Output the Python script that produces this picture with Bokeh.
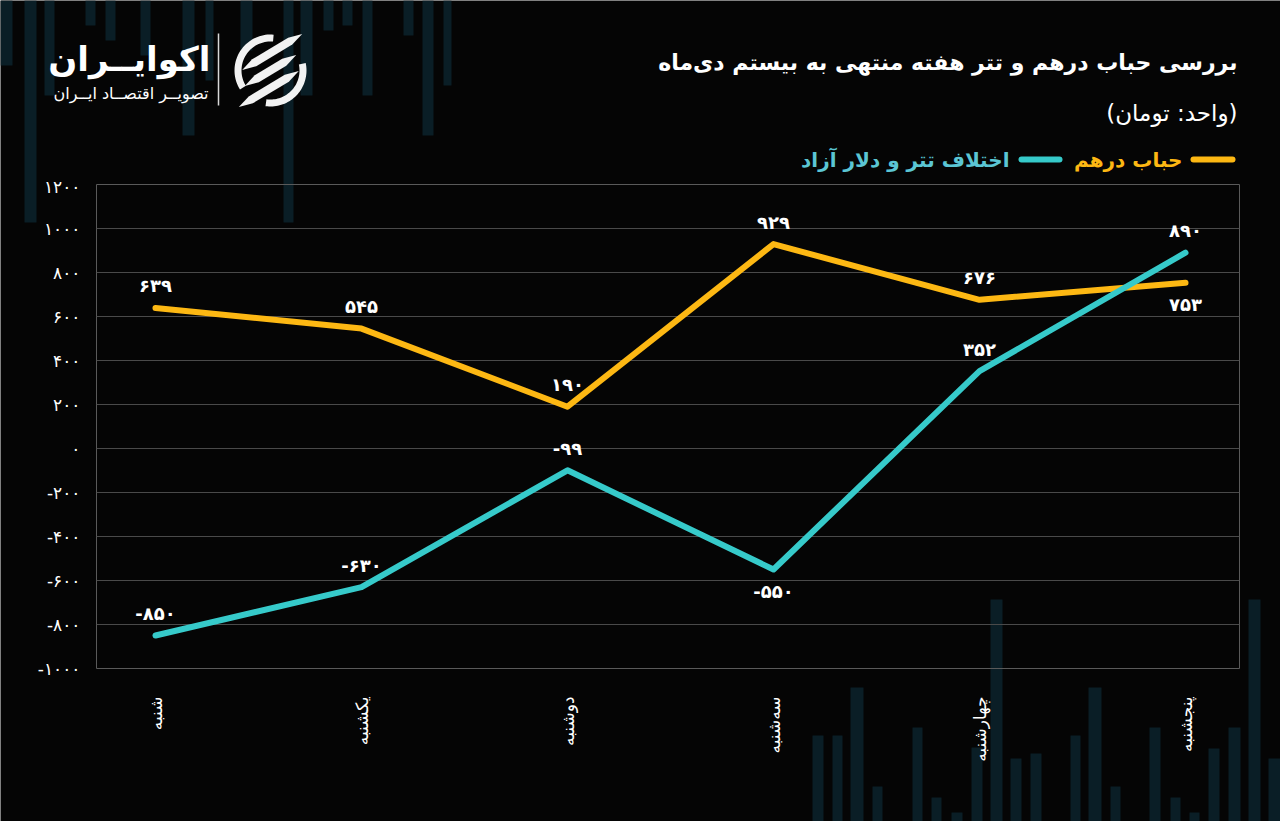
import numpy as np
from bokeh.plotting import figure
from bokeh.models import Range1d, FixedTicker, ColumnDataSource
from bokeh.core.properties import value
from bokeh.embed import file_html
from bokeh.resources import INLINE

# ---------------- data ----------------
days = ["شنبه", "یکشنبه", "دوشنبه", "سه‌شنبه", "چهارشنبه", "پنجشنبه"]
dirham_bubble = [639, 545, 190, 929, 676, 753]          # حباب درهم
tether_gap = [-850, -630, -99, -550, 352, 890]           # اختلاف تتر و دلار آزاد
y_ticks = [-1000, -800, -600, -400, -200, 0, 200, 400, 600, 800, 1000, 1200]

title_text = "بررسی حباب درهم و تتر هفته منتهی به بیستم دی‌ماه"
subtitle_text = "(واحد: تومان)"
series_names = ["حباب درهم", "اختلاف تتر و دلار آزاد"]
brand_name = "اکوایــران"
brand_tag = "تصویــر اقتصــاد ایــران"

# label placement (1 = above point, -1 = below point)
dirham_label_side = [1, 1, 1, 1, 1, -1]
tether_label_side = [1, 1, 1, -1, 1, 1]

# ---------------- style ----------------
BG = "#050505"
YELLOW = "#FDB813"
CYAN = "#36CACA"
CYAN_TXT = "#5BC6D4"
GRID = "#4a4a4a"
DECOR = "#0a1e26"
FA_FONT = "DejaVu Sans"
W, H_PAGE = 1280, 821
HEADER_H = 176
MAIN_H = H_PAGE - HEADER_H
FL, FR, FT, FB = 96, 1239, 184, 668   # chart frame in page pixels

FA_DIGITS = str.maketrans("0123456789", "۰۱۲۳۴۵۶۷۸۹")


def fa(n):
    s = str(abs(n)).translate(FA_DIGITS)
    return "-" + s if n < 0 else s


def blank_fig(width, height):
    f = figure(width=width, height=height, output_backend="svg", toolbar_location=None,
               x_range=Range1d(0, width), y_range=Range1d(height, 0),
               x_axis_type=None, y_axis_type=None,
               min_border=0, min_border_left=0, min_border_right=0,
               min_border_top=0, min_border_bottom=0)
    f.outline_line_color = None
    f.grid.grid_line_color = None
    return f


# =============== page background with faint decorative bars ===============
bg = blank_fig(W, H_PAGE)
bg.background_fill_color = BG
bg.border_fill_color = BG
bg.styles = {"position": "absolute", "left": "0px", "top": "0px", "z-index": "-1"}

DECOR_TOP = [(0, 12, 65), (24, 36, 222), (44, 54, 95), (85, 95, 25), (105, 115, 40),
             (140, 150, 55), (182, 194, 135), (205, 213, 80), (240, 252, 50),
             (283, 293, 222), (300, 312, 95), (323, 333, 30), (342, 352, 25),
             (362, 372, 95), (403, 413, 35), (422, 433, 135), (443, 451, 85)]
DECOR_BOTTOM = [(812, 823, 735), (832, 842, 735), (850, 863, 687), (872, 882, 786),
                (912, 922, 727), (931, 941, 797), (951, 962, 812), (971, 982, 747),
                (990, 1002, 599), (1010, 1021, 758), (1030, 1041, 753), (1070, 1080, 735),
                (1088, 1101, 687), (1110, 1120, 786), (1149, 1160, 727), (1170, 1180, 797),
                (1189, 1199, 812), (1208, 1219, 748), (1228, 1240, 727), (1248, 1260, 599),
                (1268, 1280, 758)]
bg.quad(left=[d[0] for d in DECOR_TOP], right=[d[1] for d in DECOR_TOP],
        top=[0] * len(DECOR_TOP), bottom=[d[2] for d in DECOR_TOP],
        fill_color=DECOR, line_color=None)
bg.quad(left=[d[0] for d in DECOR_BOTTOM], right=[d[1] for d in DECOR_BOTTOM],
        top=[d[2] for d in DECOR_BOTTOM], bottom=[H_PAGE] * len(DECOR_BOTTOM),
        fill_color=DECOR, line_color=None)

# =============== header figure (pixel coordinates, y down) ===============
h = blank_fig(W, HEADER_H)
h.background_fill_alpha = 0
h.border_fill_alpha = 0


def htext(x, y, text, size, color="white", bold=False, align="right"):
    h.text(x=[x], y=[y], text=[text], text_align=align, text_baseline="middle",
           text_color=color, text_font=value(FA_FONT), text_font_size=size,
           text_font_style="bold" if bold else "normal")


htext(1237, 62, title_text, "22px", bold=True)
htext(1237, 112, subtitle_text, "23px")

# legend (right-to-left)
h.line(x=[1193, 1232], y=[159, 159], line_color=YELLOW, line_width=6, line_cap="round")
h.line(x=[1021, 1059], y=[159, 159], line_color=CYAN, line_width=6, line_cap="round")
htext(1182, 159, series_names[0], "20px", color=YELLOW, bold=True)
htext(1009, 159, series_names[1], "20px", color=CYAN_TXT, bold=True)

# brand
htext(210, 58, brand_name, "34px", bold=True)
htext(208, 93, brand_tag, "16px")
h.segment(x0=[218], y0=[33], x1=[218], y1=[105], line_color="#d8d8d8", line_width=1.5)

# logo icon
cx, cy = 270.0, 70.0
R_OUT, R_IN = 36.0, 29.0
logo_xs, logo_ys = [], []
for a0, a1 in [(85, 212), (262, 372)]:
    a = np.radians(np.linspace(a0, a1, 40))
    dx = list(R_OUT * np.cos(a)) + list(R_IN * np.cos(a[::-1]))
    dy = list(R_OUT * np.sin(a)) + list(R_IN * np.sin(a[::-1]))
    logo_xs.append([cx + v for v in dx])
    logo_ys.append([cy - v for v in dy])

th = np.radians(31)
u = np.array([np.cos(th), np.sin(th)])
nrm = np.array([-np.sin(th), np.cos(th)])
for d, t0, t1 in [(15, -24, 46), (0, -30, 30), (-15, -46, 24)]:
    c0 = d * nrm
    wd = 4.0
    pts = [c0 + t0 * u,
           c0 + (t0 + 14) * u + wd * nrm,
           c0 + (t1 - 14) * u + wd * nrm,
           c0 + t1 * u,
           c0 + (t1 - 14) * u - wd * nrm,
           c0 + (t0 + 14) * u - wd * nrm]
    logo_xs.append([cx + float(q[0]) for q in pts])
    logo_ys.append([cy - float(q[1]) for q in pts])
h.patches(xs=logo_xs, ys=logo_ys, fill_color="#f2f2f2", line_color=None)

# =============== main chart figure ===============
idx = list(range(len(days)))
px_per_unit = 206.0
x_start = -(155 - FL) / px_per_unit
x_end = 5 + (FR - 1185) / px_per_unit

p = figure(width=W, height=MAIN_H, output_backend="svg", toolbar_location=None,
           x_range=Range1d(x_start, x_end), y_range=Range1d(-1000, 1200),
           min_border_left=FL, min_border_right=W - FR,
           min_border_top=FT - HEADER_H, min_border_bottom=MAIN_H - (FB - HEADER_H))
p.background_fill_alpha = 0
p.border_fill_alpha = 0
p.outline_line_color = "#5a5a5a"
p.outline_line_width = 1

p.xgrid.grid_line_color = None
p.ygrid.grid_line_color = GRID
p.ygrid.grid_line_width = 1

p.yaxis.ticker = FixedTicker(ticks=y_ticks)
p.yaxis.major_label_overrides = {v: fa(v) for v in y_ticks}
p.yaxis.axis_line_color = None
p.yaxis.major_tick_line_color = None
p.yaxis.minor_tick_line_color = None
p.yaxis.major_label_standoff = 10
p.yaxis.major_label_text_color = "white"
p.yaxis.major_label_text_font = FA_FONT
p.yaxis.major_label_text_font_size = "17px"

p.xaxis.ticker = FixedTicker(ticks=idx)
p.xaxis.major_label_overrides = {i: d for i, d in zip(idx, days)}
p.xaxis.major_label_orientation = np.pi / 2
p.xaxis.axis_line_color = None
p.xaxis.major_tick_line_color = None
p.xaxis.minor_tick_line_color = None
p.xaxis.major_label_standoff = 22
p.xaxis.major_label_text_color = "white"
p.xaxis.major_label_text_font = FA_FONT
p.xaxis.major_label_text_font_size = "17px"

src_d = ColumnDataSource(dict(x=idx, y=dirham_bubble, t=[fa(v) for v in dirham_bubble],
                              off=[-22 if s > 0 else 22 for s in dirham_label_side]))
src_t = ColumnDataSource(dict(x=idx, y=tether_gap, t=[fa(v) for v in tether_gap],
                              off=[-22 if s > 0 else 22 for s in tether_label_side]))

p.line("x", "y", source=src_d, line_color=YELLOW, line_width=6,
       line_cap="round", line_join="round")
p.line("x", "y", source=src_t, line_color=CYAN, line_width=6,
       line_cap="round", line_join="round")

for src in (src_d, src_t):
    p.text("x", "y", text="t", source=src, y_offset="off",
           text_align="center", text_baseline="middle", text_color="white",
           text_font=value(FA_FONT), text_font_size="18px", text_font_style="bold")

open("out.html", "w").write(file_html([h, p, bg], INLINE))
